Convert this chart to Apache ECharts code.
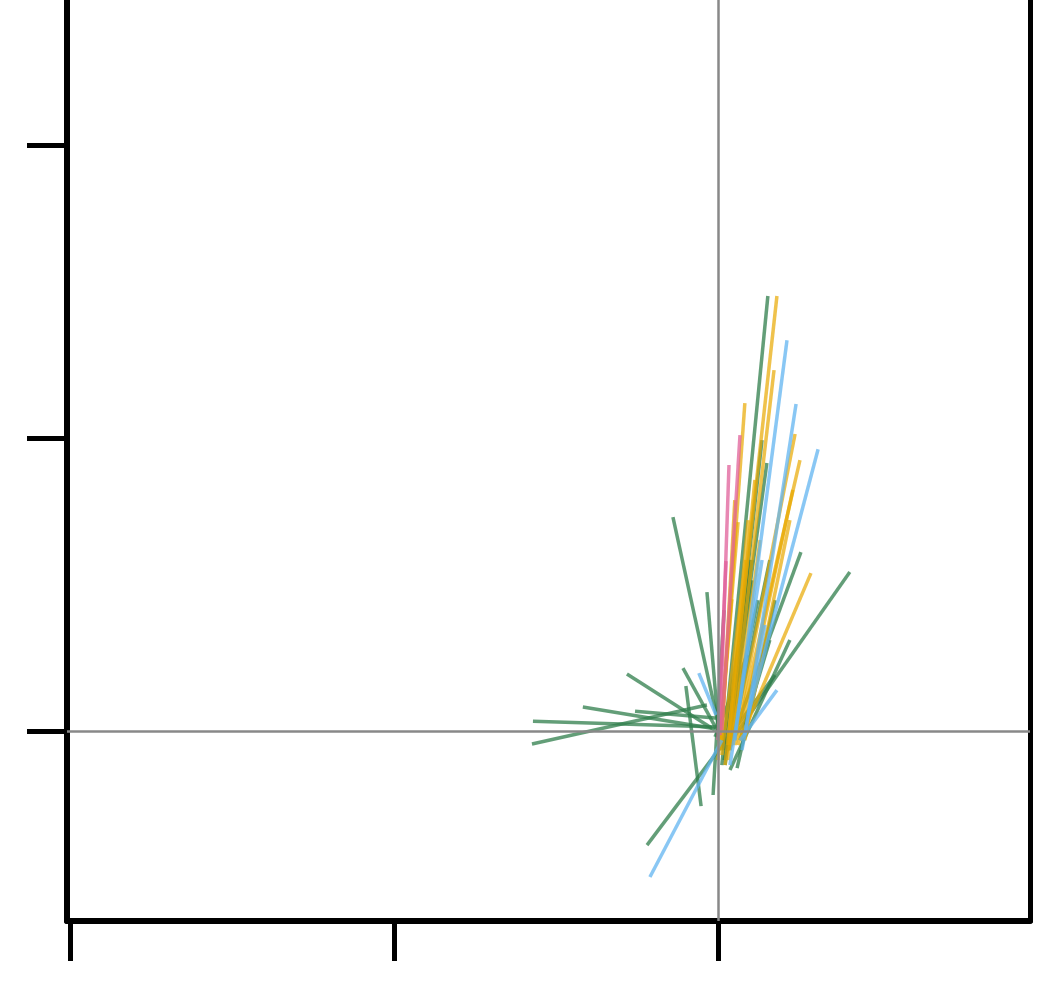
<!DOCTYPE html>
<html>
<head>
<meta charset="utf-8">
<script src="https://cdn.jsdelivr.net/npm/echarts@6/dist/echarts.min.js"></script>
<style>html,body{margin:0;padding:0;background:#fff}#c{width:1041px;height:985px}</style>
</head>
<body>
<div id="c"></div>
<script>
// Tick values
const xTicks = [-2, -1, 0];
const yTicks = [0, 1, 2];

// Segments [x1, y1, x2, y2]
const greenSegments = [
  [0.012, -0.116, 0.154, 1.485],
  [-0.139, 0.730, 0.012, -0.031],
  [0.256, 0.611, 0.031, -0.065],
  [0.407, 0.543, 0.031, -0.048],
  [-0.571, 0.034, 0.000, 0.014],
  [-0.574, -0.044, -0.034, 0.089],
  [-0.417, 0.082, -0.019, 0.010],
  [-0.281, 0.195, -0.009, 0.003],
  [-0.108, 0.215, -0.006, 0.010],
  [-0.256, 0.068, 0.000, 0.044],
  [-0.099, 0.154, -0.052, -0.256],
  [-0.219, -0.389, 0.176, 0.191],
  [-0.034, 0.474, 0.006, -0.048],
  [-0.015, -0.218, 0.019, 0.413],
  [0.059, -0.126, 0.176, 0.447],
  [0.022, -0.116, 0.151, 0.915],
  [0.031, -0.048, 0.136, 0.993],
  [0.037, -0.133, 0.222, 0.311],
  [0.012, -0.065, 0.105, 0.584],
  [0.068, -0.031, 0.160, 0.311],
  [0.019, -0.099, 0.123, 0.447],
  [-0.009, -0.020, 0.090, 0.260],
  [0.022, -0.065, 0.099, 0.584],
  [0.037, -0.065, 0.160, 0.584],
  [0.031, -0.048, 0.105, 0.515]
];
const yellowSegments = [
  [0.022, -0.116, 0.182, 1.485],
  [0.037, -0.065, 0.173, 1.232],
  [0.006, -0.065, 0.083, 1.119],
  [0.052, -0.031, 0.238, 1.014],
  [0.062, -0.048, 0.231, 0.823],
  [0.068, -0.031, 0.287, 0.539],
  [0.000, -0.099, 0.062, 0.713],
  [0.012, -0.082, 0.086, 0.584],
  [0.083, -0.031, 0.222, 0.720],
  [0.031, -0.099, 0.114, 0.857],
  [0.052, -0.048, 0.253, 0.925],
  [0.006, -0.048, 0.043, 0.450],
  [0.012, -0.031, 0.052, 0.788],
  [0.031, -0.048, 0.093, 0.720],
  [0.043, -0.048, 0.130, 0.652]
];
const blueSegments = [
  [0.052, -0.031, 0.213, 1.334],
  [0.083, -0.014, 0.241, 1.116],
  [0.093, 0.055, 0.309, 0.962],
  [0.068, -0.031, 0.182, 0.140],
  [-0.210, -0.498, 0.012, -0.031],
  [-0.059, 0.198, -0.006, 0.055],
  [0.074, -0.065, 0.145, 0.362],
  [0.037, -0.116, 0.136, 0.584]
];
const pinkSegments = [
  [0.012, 0.003, 0.068, 1.010],
  [0.006, -0.014, 0.034, 0.908],
  [0.000, -0.031, 0.025, 0.580]
];

function toLines(segs) {
  return segs.map(s => ({ coords: [[s[0], s[1]], [s[2], s[3]]] }));
}
function seg(name, segs, color, opacity) {
  return {
    name: name, type: 'lines', coordinateSystem: 'cartesian2d',
    data: toLines(segs), symbol: 'none', silent: true,
    lineStyle: { color: color, width: 3.5, opacity: opacity, curveness: 0 },
    z: 3
  };
}

const chart = echarts.init(document.getElementById('c'), null, { renderer: 'canvas' });
chart.setOption({
  animation: false,
  backgroundColor: '#ffffff',
  grid: { left: 67, right: 11, top: 0, bottom: 64, containLabel: false },
  xAxis: {
    type: 'value', min: -2.009, max: 0.963,
    axisLine: { show: true, onZero: false, lineStyle: { color: '#000', width: 6 } },
    axisTick: { show: true, customValues: xTicks, length: 40, lineStyle: { color: '#000', width: 5 } },
    axisLabel: { show: false, customValues: xTicks },
    splitLine: { show: false }
  },
  yAxis: [{
    type: 'value', min: -0.648, max: 2.495,
    axisLine: { show: true, onZero: false, lineStyle: { color: '#000', width: 6 } },
    axisTick: { show: true, customValues: yTicks, length: 40, lineStyle: { color: '#000', width: 5 } },
    axisLabel: { show: false, customValues: yTicks },
    splitLine: { show: false }
  }, {
    type: 'value', position: 'right', min: -0.648, max: 2.495,
    axisLine: { show: true, onZero: false, lineStyle: { color: '#000', width: 5 } },
    axisTick: { show: false }, axisLabel: { show: false }, splitLine: { show: false }
  }],
  series: [
    {
      type: 'line', data: [], silent: true,
      markLine: {
        silent: true, symbol: 'none', animation: false,
        label: { show: false },
        lineStyle: { color: '#888888', width: 2.5, type: 'solid' },
        data: [{ xAxis: 0 }, { yAxis: 0 }],
        z: 10
      },
      z: 10
    },
    seg('green', greenSegments, '#2f7d4b', 0.75),
    seg('yellow', yellowSegments, '#e8a800', 0.7),
    seg('blue', blueSegments, '#62b4f0', 0.75),
    seg('pink', pinkSegments, '#e0609a', 0.75)
  ]
});
</script>
</body>
</html>
